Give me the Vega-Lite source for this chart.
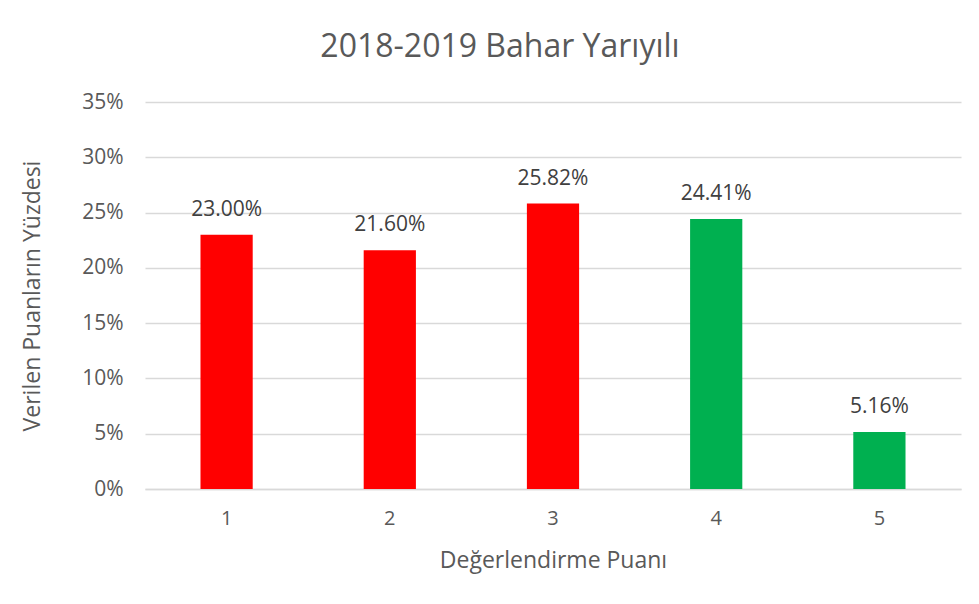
{
  "$schema": "https://vega.github.io/schema/vega-lite/v6.json",
  "autosize": "none",
  "width": 816,
  "height": 387,
  "padding": {"left": 145, "top": 102, "right": 18, "bottom": 115},
  "background": "white",
  "config": {
    "font": "Open Sans",
    "view": {"stroke": null}
  },
  "title": {
    "text": "2018-2019 Bahar Yarıyılı",
    "fontSize": 32,
    "font": "Open Sans",
    "fontWeight": "normal",
    "color": "#595959",
    "anchor": "middle",
    "dx": -53,
    "offset": 27
  },
  "data": {
    "values": [
      {"puan": "1", "oran": 0.2300, "grup": "low"},
      {"puan": "2", "oran": 0.2160, "grup": "low"},
      {"puan": "3", "oran": 0.2582, "grup": "low"},
      {"puan": "4", "oran": 0.2441, "grup": "high"},
      {"puan": "5", "oran": 0.0516, "grup": "high"}
    ]
  },
  "encoding": {
    "x": {
      "field": "puan",
      "type": "ordinal",
      "title": "Değerlendirme Puanı",
      "scale": {"paddingInner": 0.68, "paddingOuter": 0.34},
      "axis": {
        "labelAngle": 0,
        "labelFontSize": 20,
        "labelColor": "#595959",
        "labelPadding": 19,
        "ticks": false,
        "domainColor": "#d9d9d9",
        "domainWidth": 1.5,
        "titleFontSize": 23,
        "titleFontWeight": "normal",
        "titleColor": "#595959",
        "titlePadding": 21
      }
    },
    "y": {
      "field": "oran",
      "type": "quantitative",
      "title": "Verilen Puanların Yüzdesi",
      "scale": {"domain": [0, 0.35], "nice": false},
      "axis": {
        "values": [0, 0.05, 0.1, 0.15, 0.2, 0.25, 0.3, 0.35],
        "format": ".0%",
        "labelFontSize": 21,
        "labelColor": "#595959",
        "labelPadding": 22,
        "ticks": false,
        "domain": false,
        "gridColor": "#d9d9d9",
        "gridWidth": 1.5,
        "titleFontSize": 23,
        "titleFontWeight": "normal",
        "titleColor": "#595959",
        "titlePadding": 37
      }
    }
  },
  "layer": [
    {
      "mark": {"type": "bar"},
      "encoding": {
        "color": {
          "field": "grup",
          "type": "nominal",
          "scale": {"domain": ["low", "high"], "range": ["#FF0000", "#00B050"]},
          "legend": null
        }
      }
    },
    {
      "mark": {"type": "text", "baseline": "alphabetic", "dy": -19, "fontSize": 21, "color": "#404040"},
      "encoding": {
        "text": {"field": "oran", "type": "quantitative", "format": ".2%"}
      }
    }
  ]
}
